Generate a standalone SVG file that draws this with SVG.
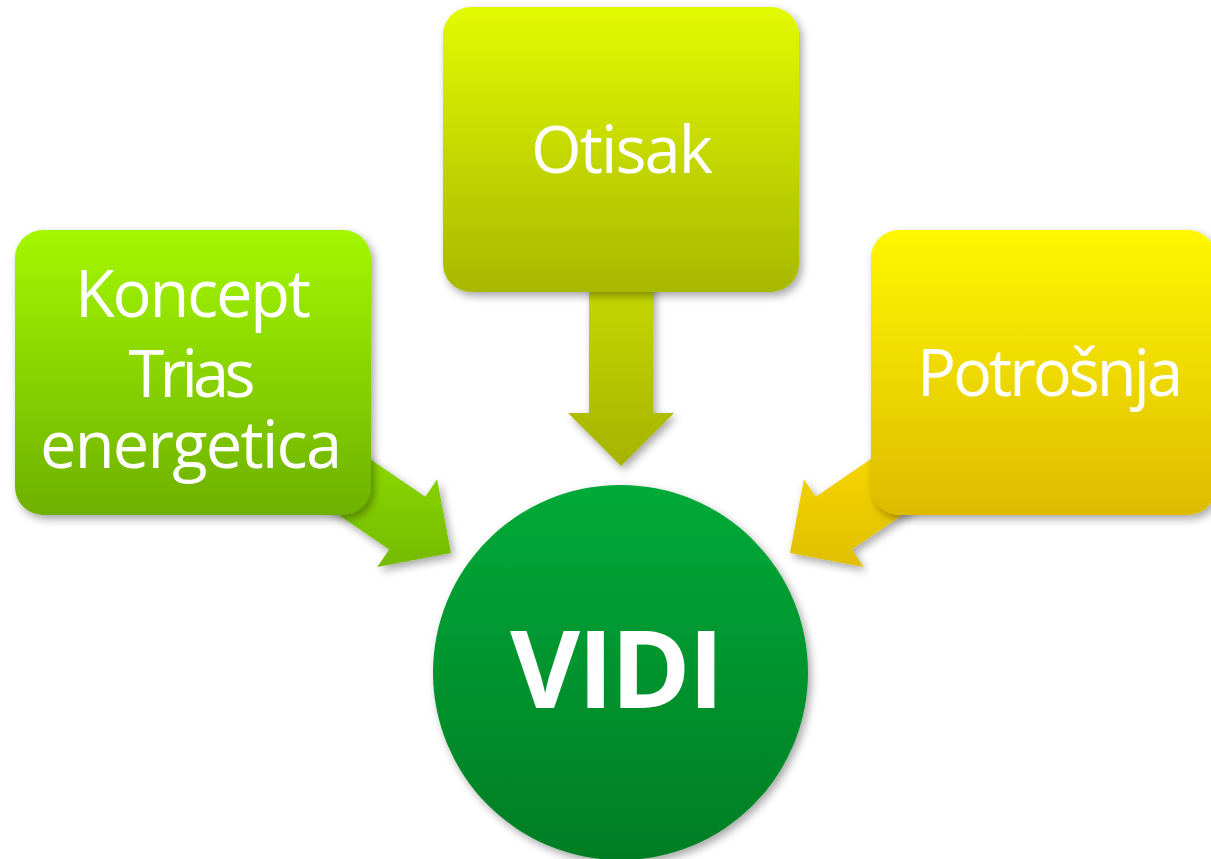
<svg xmlns="http://www.w3.org/2000/svg" width="1211" height="859" viewBox="0 0 1211 859">
<defs>
<linearGradient id="gL" x1="0" y1="0" x2="0" y2="1"><stop offset="0" stop-color="#a4f700"/><stop offset="1" stop-color="#6db000"/></linearGradient>
<linearGradient id="gT" x1="0" y1="0" x2="0" y2="1"><stop offset="0" stop-color="#e2fa00"/><stop offset="1" stop-color="#a8b800"/></linearGradient>
<linearGradient id="gR" x1="0" y1="0" x2="0" y2="1"><stop offset="0" stop-color="#fff700"/><stop offset="1" stop-color="#ddbb00"/></linearGradient>
<linearGradient id="gC" x1="0" y1="0" x2="0" y2="1"><stop offset="0" stop-color="#00aa38"/><stop offset="1" stop-color="#007d24"/></linearGradient>
<linearGradient id="aL" x1="0" y1="0" x2="0" y2="1"><stop offset="0" stop-color="#8edb00"/><stop offset="1" stop-color="#74ba00"/></linearGradient>
<linearGradient id="aT" x1="0" y1="0" x2="0" y2="1"><stop offset="0" stop-color="#c6d900"/><stop offset="1" stop-color="#a5b300"/></linearGradient>
<linearGradient id="aR" x1="0" y1="0" x2="0" y2="1"><stop offset="0" stop-color="#f8d800"/><stop offset="1" stop-color="#e0bf00"/></linearGradient>
<filter id="sh" x="-20%" y="-20%" width="140%" height="140%"><feDropShadow dx="3" dy="4" stdDeviation="4" flood-color="#000" flood-opacity="0.35"/></filter>
</defs>
<style>
.lbl{font-family:"Open Sans","Noto Sans","Liberation Sans",sans-serif;font-weight:400;font-size:65px;fill:#fff;text-anchor:middle}
.big{font-family:"Open Sans","Noto Sans","Liberation Sans",sans-serif;font-weight:700;font-size:108px;fill:#fff;text-anchor:middle}
</style>
<rect width="1211" height="859" fill="#fff"/>
<g id="connectors" filter="url(#sh)">
<polygon fill="url(#aL)" points="345.1,442 425.3,496.7 437.1,479.3 451,553 377.3,566.9 389.2,549.5 309.1,494.8"/>
<polygon fill="url(#aT)" points="589,280 653,280 653,413 674,413 621,466 568,413 589,413"/>
<polygon fill="url(#aR)" points="895.9,442 815.7,496.7 803.9,479.3 790,553 863.7,566.9 851.8,549.5 931.9,494.8"/>
</g>
<g id="node-koncept">
<rect x="15" y="230" width="356" height="285" rx="28" fill="url(#gL)" filter="url(#sh)"/>
<text class="lbl" x="193" y="317" textLength="236" lengthAdjust="spacing">Koncept</text>
<text class="lbl" x="192" y="397" textLength="127" lengthAdjust="spacing">Trias</text>
<text class="lbl" x="191" y="468" textLength="302" lengthAdjust="spacing">energetica</text>
</g>
<g id="node-otisak">
<rect x="443" y="7" width="356" height="285" rx="28" fill="url(#gT)" filter="url(#sh)"/>
<text class="lbl" x="622" y="173" textLength="182" lengthAdjust="spacing">Otisak</text>
</g>
<g id="node-potrosnja">
<rect x="871" y="230" width="345" height="285" rx="28" fill="url(#gR)" filter="url(#sh)"/>
<text class="lbl" x="1050" y="396" textLength="266" lengthAdjust="spacing">Potrošnja</text>
</g>
<g id="node-vidi">
<circle cx="620.5" cy="672.5" r="187.5" fill="url(#gC)" filter="url(#sh)"/>
<text class="big" x="617" y="708" textLength="214" lengthAdjust="spacing">VIDI</text>
</g>
</svg>
